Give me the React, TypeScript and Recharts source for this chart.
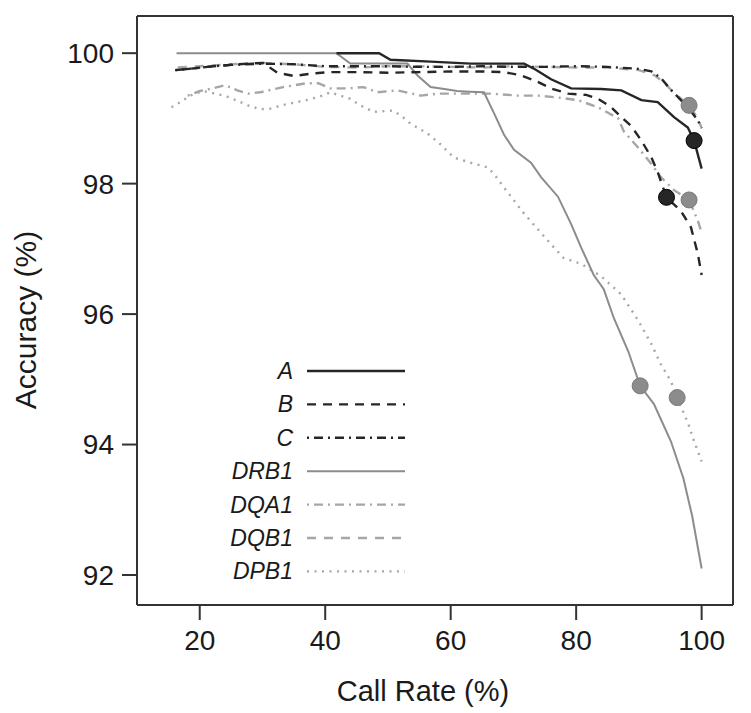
import React from "react";
import {
  ComposedChart,
  Line,
  Scatter,
  XAxis,
  YAxis,
} from "recharts";

// [call rate %, accuracy %]
const seriesA = [
  [41.8, 100], [48.6, 100], [50.4, 99.9], [56.8, 99.87], [63.2, 99.84], [71.7, 99.84],
  [73.5, 99.75], [76, 99.6], [79.2, 99.46], [84, 99.45], [87.2, 99.43], [90.4, 99.28],
  [93, 99.25], [95.6, 99.02], [97.8, 98.86], [98.8, 98.66], [100, 98.23],
];
const seriesB = [
  [16.1, 99.74], [19.3, 99.77], [22.2, 99.8], [24.9, 99.82], [27.7, 99.84], [30.1, 99.85],
  [32.4, 99.7], [35, 99.65], [38.1, 99.69], [40.8, 99.71], [45, 99.71], [50, 99.7],
  [55, 99.71], [60, 99.72], [65, 99.72], [68.5, 99.71], [71.2, 99.66], [73.9, 99.56],
  [76, 99.46], [78.7, 99.38], [81.6, 99.36], [83.5, 99.3], [85.6, 99.17], [87.2, 99.02],
  [88.8, 98.88], [90.4, 98.66], [92, 98.4], [93.1, 98.15], [94.4, 97.79], [96.7, 97.58],
  [98.3, 97.33], [99.4, 96.92], [100, 96.6],
];
const seriesC = [
  [16.1, 99.74], [19.3, 99.77], [22.2, 99.8], [25, 99.82], [30, 99.84], [35, 99.83],
  [40, 99.8], [45, 99.8], [50, 99.8], [55, 99.79], [60, 99.79], [65, 99.8], [70, 99.79],
  [75, 99.79], [80, 99.8], [85, 99.79], [90, 99.76], [92, 99.72], [93.5, 99.62],
  [95, 99.45], [96.7, 99.28], [98, 99.15], [99.4, 98.97], [100, 98.85],
];
const seriesDRB1 = [
  [16.3, 100], [41.8, 100], [44, 99.84], [48, 99.84], [53.1, 99.84], [54.8, 99.65],
  [56.8, 99.48], [59, 99.45], [61, 99.42], [63, 99.41], [65.3, 99.4], [66.9, 99.08],
  [68.5, 98.75], [70.1, 98.52], [72.8, 98.32], [74.4, 98.1], [77.1, 97.8], [79.2, 97.38],
  [80.8, 97.02], [82.8, 96.6], [84.4, 96.38], [86, 95.94], [88.3, 95.43], [90.2, 94.9],
  [92.4, 94.62], [95.1, 94.05], [97.1, 93.48], [98.5, 92.9], [100, 92.1],
];
const seriesDQA1 = [
  [18.1, 99.35], [20, 99.42], [22.1, 99.46], [24.1, 99.51], [26, 99.43], [27.7, 99.38],
  [29.6, 99.4], [33.3, 99.48], [37.1, 99.54], [38.9, 99.54], [40.8, 99.46], [43.5, 99.46],
  [46.1, 99.48], [48.3, 99.4], [51.5, 99.43], [55.2, 99.35], [58, 99.38], [62, 99.38],
  [66.4, 99.38], [70.7, 99.35], [73.9, 99.35], [77.1, 99.32], [80.3, 99.28], [83.5, 99.17],
  [86.7, 99.0], [87.6, 98.8], [89.9, 98.55], [92, 98.3], [93.5, 98.1], [95.6, 97.9],
  [98, 97.75], [99.4, 97.43], [100, 97.25],
];
const seriesDQB1 = [
  [16.5, 99.78], [20, 99.8], [25, 99.83], [30, 99.85], [35, 99.83], [40, 99.79],
  [45, 99.78], [50, 99.8], [55, 99.8], [60, 99.79], [65, 99.78], [70, 99.8], [75, 99.79],
  [80, 99.78], [85, 99.78], [90, 99.74], [92.5, 99.66], [94, 99.55], [95.5, 99.4],
  [97, 99.28], [98, 99.2], [99.4, 99.0], [100, 98.85],
];
const seriesDPB1 = [
  [15.5, 99.17], [16.9, 99.25], [18.5, 99.35], [20.5, 99.42], [22.5, 99.38], [24.5, 99.33],
  [26, 99.27], [27.7, 99.2], [29.6, 99.14], [31.3, 99.15], [33, 99.2], [35, 99.24],
  [37, 99.28], [39, 99.33], [40.8, 99.4], [44, 99.3], [45.6, 99.2], [47.7, 99.1],
  [50.7, 99.12], [52, 99.05], [53.6, 98.92], [56.3, 98.77], [58.4, 98.6], [60.5, 98.4],
  [63.2, 98.32], [65.9, 98.25], [66.9, 98.15], [68.5, 97.94], [70.1, 97.74], [71.7, 97.54],
  [73.9, 97.3], [76, 97.07], [78, 96.86], [80.8, 96.77], [84, 96.58], [87.2, 96.3],
  [89.9, 95.9], [92, 95.54], [93.5, 95.23], [95.1, 94.97], [96.1, 94.72], [97.9, 94.31],
  [98.8, 94.05], [100, 93.74],
];

// highlighted operating points
const blackDots = [[98.8, 98.66], [94.4, 97.79]];
const grayDots = [[98, 99.2], [98, 97.75], [90.2, 94.9], [96.1, 94.72]];

const xTicks = [20, 40, 60, 80, 100];
const yTicks = [92, 94, 96, 98, 100];
const legendNames = ["A", "B", "C", "DRB1", "DQA1", "DQB1", "DPB1"];

const FONT = '"Liberation Sans", Arial, Helvetica, sans-serif';
const DARK = "#262626";
const GRAY = "#8c8c8c";
const LGRAY = "#a6a6a6";

const styles: Record<string, { color: string; dash?: string; width: number }> = {
  A: { color: DARK, width: 2.4 },
  B: { color: DARK, dash: "9 7", width: 2.4 },
  C: { color: DARK, dash: "2 5 9 5", width: 2.4 },
  DRB1: { color: GRAY, width: 2 },
  DQA1: { color: LGRAY, dash: "2 5 9 5", width: 2.4 },
  DQB1: { color: LGRAY, dash: "9 8", width: 2.4 },
  DPB1: { color: LGRAY, dash: "2 5.5", width: 2.4 },
};

const seriesData: Record<string, number[][]> = {
  A: seriesA,
  B: seriesB,
  C: seriesC,
  DRB1: seriesDRB1,
  DQA1: seriesDQA1,
  DQB1: seriesDQB1,
  DPB1: seriesDPB1,
};

const toPts = (arr: number[][]) => arr.map(([x, y]) => ({ x, y }));

const Dot = (fill: string) => (props: any) =>
  <circle cx={props.cx} cy={props.cy} r={8} fill={fill} stroke={fill === DARK ? "#000" : "#7a7a7a"} strokeWidth={1} />;

const YTitle = () => (
  <text x={25} y={320} transform="rotate(-90 25 320)" textAnchor="middle"
    dominantBaseline="central" fontSize={30} fill="#1a1a1a" fontFamily={FONT}>
    Accuracy (%)
  </text>
);

const XTitle = () => (
  <text x={423} y={691} textAnchor="middle" dominantBaseline="central"
    fontSize={29} fill="#1a1a1a" fontFamily={FONT}>
    Call Rate (%)
  </text>
);

const drawOrder = ["DPB1", "DQB1", "DQA1", "DRB1", "C", "B", "A"];

export default function App() {
  const tickStyle = { fill: "#1a1a1a", fontSize: 28, fontFamily: FONT };
  const axisLine = { stroke: "#333", strokeWidth: 2 };
  return (
    <div style={{ position: "absolute", left: 0, top: 0, width: 751, height: 713, background: "#fff" }}>
      <ComposedChart width={751} height={713} margin={{ top: 0, right: 0, left: 0, bottom: 0 }}>
        <XAxis type="number" dataKey="x" xAxisId="bottom" domain={[10, 105]} ticks={xTicks}
          allowDataOverflow height={108} tickSize={15} tickMargin={10} tick={tickStyle}
          axisLine={axisLine} tickLine={axisLine} label={<XTitle />} />
        <XAxis type="number" xAxisId="top" orientation="top" domain={[10, 105]} ticks={xTicks}
          height={16} tickSize={16} tick={false} axisLine={axisLine} tickLine={axisLine} />
        <YAxis type="number" yAxisId="left" domain={[91.54, 100.57]} ticks={yTicks}
          allowDataOverflow width={137} tickSize={15} tickMargin={8} tick={tickStyle}
          axisLine={axisLine} tickLine={axisLine} label={<YTitle />} />
        <YAxis type="number" yAxisId="right" orientation="right" domain={[91.54, 100.57]}
          ticks={yTicks} width={18} tickSize={18} tick={false} axisLine={axisLine} tickLine={axisLine} />
        {drawOrder.map((name) => (
          <Line key={name} xAxisId="bottom" yAxisId="left" data={toPts(seriesData[name])}
            dataKey="y" type="linear" stroke={styles[name].color}
            strokeWidth={styles[name].width} strokeDasharray={styles[name].dash}
            dot={false} activeDot={false} isAnimationActive={false} />
        ))}
        <Scatter xAxisId="bottom" yAxisId="left" data={toPts(grayDots)} dataKey="y"
          shape={Dot(GRAY)} isAnimationActive={false} />
        <Scatter xAxisId="bottom" yAxisId="left" data={toPts(blackDots)} dataKey="y"
          shape={Dot(DARK)} isAnimationActive={false} />
      </ComposedChart>
      <svg width={751} height={713} style={{ position: "absolute", left: 0, top: 0, pointerEvents: "none" }}>
        {legendNames.map((name, i) => {
          const y = 371 + i * 33.4;
          const s = styles[name];
          return (
            <g key={name}>
              <text x={293} y={y} textAnchor="end" dominantBaseline="central" fontSize={23}
                fontStyle="italic" fill="#1a1a1a" fontFamily={FONT}>{name}</text>
              <line x1={307} x2={405} y1={y} y2={y} stroke={s.color} strokeWidth={s.width}
                strokeDasharray={s.dash} />
            </g>
          );
        })}
      </svg>
    </div>
  );
}
